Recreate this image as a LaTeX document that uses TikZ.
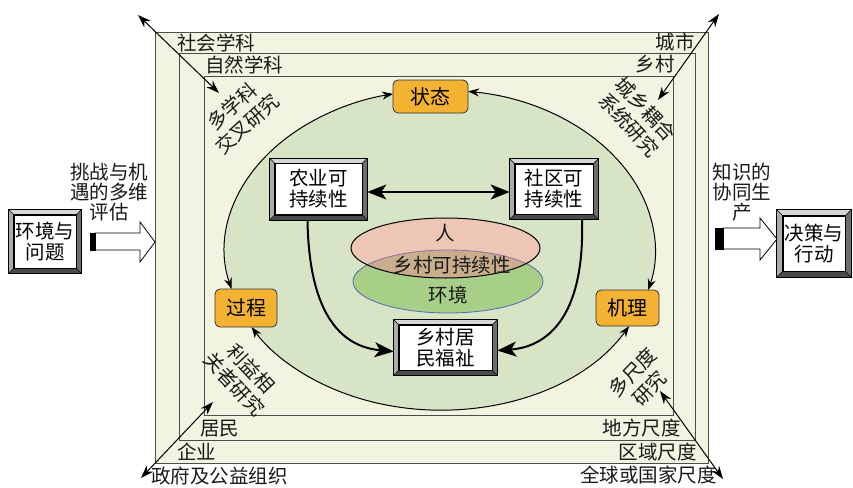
\documentclass[tikz,border=0pt]{standalone}
\usepackage{fontspec}
\setmainfont{Noto Sans CJK SC}
\usetikzlibrary{arrows.meta,calc}
\definecolor{cream}{HTML}{F3F3E1}
\definecolor{lgreen}{HTML}{D8E4C6}
\definecolor{orng}{HTML}{F4B233}
\definecolor{pinkf}{HTML}{EEC6B6}
\definecolor{greenf}{HTML}{A8CF88}
\definecolor{tanf}{HTML}{C9AD8D}
\definecolor{blueb}{HTML}{4C6CB0}
\definecolor{purpb}{HTML}{8A6FA0}
\definecolor{bvlt}{HTML}{D6D6D6}
\definecolor{bvl}{HTML}{ABABAB}
\definecolor{bvr}{HTML}{6E6E6E}
\definecolor{bvb}{HTML}{4A4A4A}
\begin{document}
\begin{tikzpicture}[x=1pt,y=-1pt,
 txt/.style={font=\fontsize{19.5}{20}\selectfont, inner sep=0pt, text=black!90},
 lbl/.style={txt, align=center},
 rlbl/.style={lbl, font=\fontsize{19.5}{23}\selectfont},
 bevelbox/.style={draw=black, line width=0.6pt, fill=white, inner sep=0pt, align=center, font=\fontsize{19.5}{21}\selectfont},
 obox/.style={draw=black!80, line width=0.8pt, fill=orng, rounded corners=5pt, inner sep=0pt, font=\fontsize{20}{22}\selectfont},
 ringarr/.style={line width=1pt, {Stealth[length=11pt,width=8pt]}-{Stealth[length=11pt,width=8pt]}},
 bigarr/.style={line width=2pt, -{Stealth[length=19pt,width=15pt,inset=5pt]}},
 bigarr2/.style={line width=2pt, {Stealth[length=19pt,width=15pt,inset=5pt]}-{Stealth[length=19pt,width=15pt,inset=5pt]}},
 cornarr/.style={line width=1pt, {Stealth[length=13pt,width=9pt]}-{Stealth[length=13pt,width=9pt]}},
 frame/.style={draw=black!70, line width=0.8pt},
]
\useasboundingbox (0,0) rectangle (853,487);
\fill[white] (0,0) rectangle (853,487);
% frames
\filldraw[fill=cream, frame] (155,32) rectangle (708,463);
\draw[frame] (179,53) rectangle (695,440);
\draw[frame] (204,76) rectangle (673,415);
% green ellipse
\coordinate (ec) at (440,250);
\fill[lgreen] (ec) ellipse[x radius=215, y radius=160];
% corner arrows
\coordinate (tla) at (138,15); \coordinate (tlb) at (219,93);
\coordinate (tra) at (719,14); \coordinate (trb) at (658,100);
\coordinate (bla) at (141,478); \coordinate (blb) at (213,402);
\coordinate (bra) at (723,479); \coordinate (brb) at (660,391);
\draw[cornarr] (tla) -- (tlb);
\draw[cornarr] (tra) -- (trb);
\draw[cornarr] (bla) -- (blb);
\draw[cornarr] (bra) -- (brb);
% ring arcs
\draw[ringarr] ($(ec)+(165.9:215 and 160)$) arc[start angle=165.9, end angle=257.4, x radius=215, y radius=160];
\draw[ringarr] ($(ec)+(277.5:215 and 160)$) arc[start angle=277.5, end angle=374.5, x radius=215, y radius=160];
\draw[ringarr] ($(ec)+(28.4:215 and 160)$) arc[start angle=28.4, end angle=151.2, x radius=215, y radius=160];
% orange boxes
\node[obox, minimum width=75pt, minimum height=33pt] (zt) at (430.5,96.5) {状态};
\node[obox, minimum width=62pt, minimum height=38pt] (gc) at (246,308) {过程};
\node[obox, minimum width=63pt, minimum height=36pt] (jl) at (627.5,308) {机理};
% center ellipses
\coordinate (pc) at (445.5,248);
\coordinate (gcn) at (448,281.5);
\fill[greenf] (gcn) ellipse[x radius=95, y radius=31.5];
\draw[blueb, line width=0.8pt] (gcn) ellipse[x radius=95, y radius=31.5];
\fill[pinkf] (pc) ellipse[x radius=94.5, y radius=30];
\begin{scope}
 \clip (pc) ellipse[x radius=94.5, y radius=30];
 \fill[tanf] (gcn) ellipse[x radius=95, y radius=31.5];
 \draw[purpb, line width=0.8pt] (gcn) ellipse[x radius=95, y radius=31.5];
\end{scope}
\draw[black, line width=1pt] (pc) ellipse[x radius=94.5, y radius=30];
\node[txt] (ren) at (445,233) {人};
\node[txt] (xckc) at (452,265) {乡村可持续性};
\node[txt] (hjt) at (448,295) {环境};
% bevel boxes
\node[bevelbox, minimum width=87pt, minimum height=51pt] (ny) at (318.5,189) {农业可\\持续性};
\node[bevelbox, minimum width=78pt, minimum height=50pt] (sq) at (554,189) {社区可\\持续性};
\node[bevelbox, minimum width=93pt, minimum height=45pt] (fz) at (445.5,347.5) {乡村居\\民福祉};
\node[bevelbox, minimum width=62pt, minimum height=53pt] (hj) at (45,241.5) {环境与\\问题};
\node[bevelbox, minimum width=62pt, minimum height=55pt] (jc) at (814,243.5) {决策与\\行动};
\foreach \n/\w in {ny/5pt,sq/5pt,fz/5pt,hj/5pt,jc/6pt}{
 \coordinate (o1) at ([shift={(-\w,\w)}]\n.north west);
 \coordinate (o2) at ([shift={(\w,\w)}]\n.north east);
 \coordinate (o3) at ([shift={(\w,-\w)}]\n.south east);
 \coordinate (o4) at ([shift={(-\w,-\w)}]\n.south west);
 \fill[bvlt] (o1) -- (o2) -- (\n.north east) -- (\n.north west) -- cycle;
 \fill[bvr] (o2) -- (o3) -- (\n.south east) -- (\n.north east) -- cycle;
 \fill[bvb] (o3) -- (o4) -- (\n.south west) -- (\n.south east) -- cycle;
 \fill[bvl] (o4) -- (o1) -- (\n.north west) -- (\n.south west) -- cycle;
 \draw[line width=0.6pt] (o1) rectangle (o3);
 \draw[line width=0.4pt] (o1) -- (\n.north west) (o2) -- (\n.north east) (o3) -- (\n.south east) (o4) -- (\n.south west);
 \draw[line width=0.6pt] (\n.north west) rectangle (\n.south east);
}
% inner arrows
\draw[bigarr2] ([shift={(5pt,-3pt)}]ny.east) -- ([shift={(-5pt,-3pt)}]sq.west);
\draw[bigarr] ([shift={(-11pt,-5pt)}]ny.south) .. controls (309,320) and (345,347) .. ([shift={(-5pt,-4pt)}]fz.west);
\draw[bigarr] ([shift={(28pt,-5pt)}]sq.south) .. controls (585,320) and (545,347) .. ([shift={(5pt,-3pt)}]fz.east);
% block arrows
\filldraw[fill=white, line width=0.8pt] (95,233) -- (140,233) -- (140,222) -- (155,242) -- (140,262) -- (140,250) -- (95,250) -- cycle;
\filldraw[fill=black, line width=0.8pt] (90,233) rectangle (95,250);
\filldraw[fill=white, line width=0.8pt] (723,228) -- (760,228) -- (760,218) -- (777,239) -- (760,260) -- (760,249) -- (723,249) -- cycle;
\filldraw[fill=black, line width=0.8pt] (715,228) rectangle (723,249);
% side texts
\node[lbl] (tz) at (109,192) {挑战与机\\遇的多维\\评估};
\node[lbl] (zs) at (742,192) {知识的\\协同生\\产};
% frame labels
\node[txt, anchor=west] (shxk) at (177,43) {社会学科};
\node[txt, anchor=west] (zrxk) at (205,65) {自然学科};
\node[txt, anchor=east] (cs) at (695,42) {城市};
\node[txt, anchor=east] (xcun) at (675,64) {乡村};
\node[txt, anchor=west] (jm) at (200,429) {居民};
\node[txt, anchor=west] (qy) at (177,452) {企业};
\node[txt, anchor=west] (zf) at (151,476) {政府及公益组织};
\node[txt, anchor=east] (df) at (681,428) {地方尺度};
\node[txt, anchor=east] (qyc) at (697,452) {区域尺度};
\node[txt, anchor=east] (qq) at (717,475) {全球或国家尺度};
% rotated labels
\node[rlbl, rotate=42] (dxk) at (239.5,115) {多学科\\交叉研究};
\node[rlbl, rotate=-47] (cxo) at (637.5,117) {城乡耦合\\系统研究};
\node[rlbl, rotate=-47] (lyx) at (242.5,376.5) {利益相\\关者研究};
\node[rlbl, rotate=46] (dcd) at (641,380) {多尺度\\研究};
\end{tikzpicture}
\end{document}
